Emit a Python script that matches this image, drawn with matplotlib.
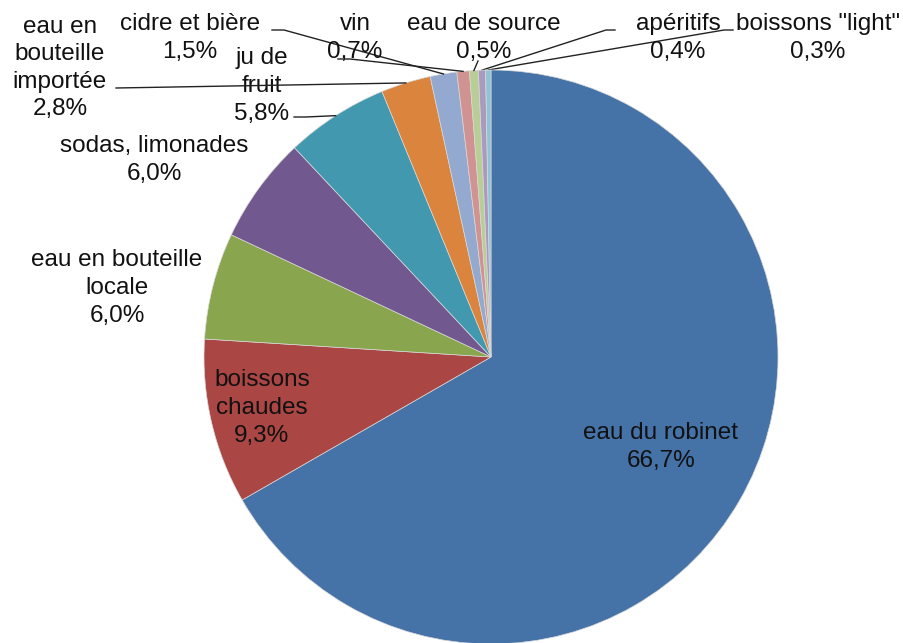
import numpy as np
import matplotlib
matplotlib.use("Agg")
import matplotlib.pyplot as plt

categories = ["eau du robinet", "boissons\nchaudes", "eau en bouteille\nlocale",
              "sodas, limonades", "ju de\nfruit", "eau en\nbouteille\nimportée",
              "cidre et bière", "vin", "eau de source", "apéritifs", 'boissons "light"']
values = [66.7, 9.3, 6.0, 6.0, 5.8, 2.8, 1.5, 0.7, 0.5, 0.4, 0.3]
pct_labels = ["66,7%", "9,3%", "6,0%", "6,0%", "5,8%", "2,8%", "1,5%", "0,7%", "0,5%", "0,4%", "0,3%"]
colors = ["#4572A7", "#AA4643", "#89A54E", "#71588F", "#4198AF", "#DB843D",
          "#93A9CF", "#D19392", "#B9CD96", "#A99BBD", "#91C3D5"]

W, H = 904, 643
fig = plt.figure(figsize=(W / 100, H / 100), dpi=100)
ax = fig.add_axes([0, 0, 1, 1])
cx, cy, R = 491, H - 357, 287
wedges, _ = ax.pie(values, colors=colors, startangle=90, counterclock=False,
                   center=(cx, cy), radius=R,
                   wedgeprops=dict(edgecolor="#d8d8d8", linewidth=0.5))
ax.set_xlim(0, W)
ax.set_ylim(0, H)
ax.set_aspect("equal")
ax.axis("off")

plt.rcParams["font.family"] = ["Liberation Sans", "DejaVu Sans"]
fs = 17.5
# label centre positions (pixel coords, top-origin) and leader start points
label_pos = [(661, 447), (262, 408), (117, 288), (154, 160), (262, 86),
             (60, 68), (190, 38), (355, 38), (484, 38), (678, 38), (818, 38)]
leader_start = [None, None, None, None, (294, 117), (116, 88), (272, 30),
                (338, 59), (478, 61), (615, 30), (733, 30)]
leader_tail = [None, None, None, None, (306, 117), None, (284, 30),
               (350, 59), None, (606, 30), (724, 30)]

for i, (w, lab, pct) in enumerate(zip(wedges, categories, pct_labels)):
    px, py = label_pos[i]
    ax.text(px, H - py, lab + "\n" + pct, ha="center", va="center",
            fontsize=fs, color="#111111", linespacing=1.33)
    if leader_start[i] is not None:
        ang = np.deg2rad((w.theta1 + w.theta2) / 2)
        ex, ey = cx + R * np.cos(ang), cy + R * np.sin(ang)
        sx, sy = leader_start[i]
        xs, ys = [sx], [H - sy]
        if leader_tail[i] is not None:
            tx, ty = leader_tail[i]
            xs.append(tx); ys.append(H - ty)
        xs.append(ex); ys.append(ey)
        ax.plot(xs, ys, color="#222222", lw=1.0, zorder=0.5 if i >= 9 else 3)

fig.savefig("out.png", dpi=100, facecolor="white")
